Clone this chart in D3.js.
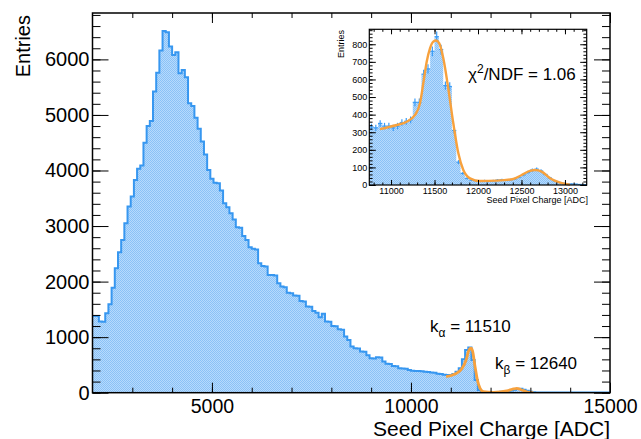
<!DOCTYPE html>
<html>
<head>
<meta charset="utf-8">
<script src="https://cdn.jsdelivr.net/npm/d3@7"></script>
<style>body{margin:0;background:#fff}</style>
</head>
<body>
<script>
// main histogram, 80 ADC bins from 2000
const mainBinStart = 2000;
const mainBinWidth = 80;
const mainCounts = [
    1380, 1380, 1280, 1275, 1430, 1590, 1890, 2240, 2530, 2750,
    3050, 3350, 3530, 3830, 4030, 4090, 4500, 4800, 4890, 5420,
    5760, 6160, 6510, 6490, 6230, 6080, 6130, 5750, 5810, 5680,
    5210, 5160, 4950, 4750, 4520, 4290, 4010, 3850, 3780, 3770,
    3640, 3410, 3340, 3230, 3120, 2980, 2970, 2820, 2750, 2620,
    2590, 2580, 2330, 2280, 2270, 2120, 2120, 2110, 1970, 1910,
    1900, 1800, 1790, 1750, 1745, 1650, 1640, 1550, 1545, 1470,
    1440, 1360, 1420, 1280, 1275, 1200, 1195, 1140, 1135, 1010,
    950, 830, 800, 795, 740, 735, 675, 620, 615, 640,
    635, 560, 520, 515, 480, 478, 440, 437, 430, 409,
    395, 391, 390, 388, 375, 373, 362, 360, 340, 337,
    322, 320, 318, 335, 375, 440, 600, 768, 815, 588,
    228, 48, 12, 8, 7, 8, 10, 12, 15, 20,
    28, 40, 55, 68, 70, 55, 35, 18, 8, 4,
    3, 3, 2, 2, 2, 2, 2, 2, 2, 2,
    2, 2, 2, 2, 2, 2, 2, 2, 2, 2,
    2, 2, 2
];

// inset histogram, 50 ADC bins from 10750
const insetBinStart = 10750;
const insetBinWidth = 50;
const insetCounts = [
    330, 325, 350, 335, 335, 325, 335, 355, 362, 370,
    470, 470, 630, 660, 760, 843, 770, 565, 560, 310,
    130, 66, 38, 28, 25, 22, 25, 22, 25, 28,
    30, 28, 30, 35, 45, 58, 72, 85, 90, 80,
    60, 40, 25, 15, 10, 8, 6, 5, 3, 2
];

// fit curve
const fitMainX = [10883, 11109, 11277, 11385, 11443, 11485, 11510, 11545, 11610, 11669, 11736, 11819, 12070, 12406, 12573, 12657, 12782, 12949, 13074];
const fitMainY = [289, 337, 430, 588, 740, 795, 800, 755, 469, 229, 79, 19, 7, 31, 67, 79, 49, 7, 0];

// fit curve
const fitInsetX = [10873, 11065, 11180, 11276, 11333, 11371, 11410, 11448, 11486, 11517, 11555, 11601, 11658, 11716, 11774, 11831, 11908, 12023, 12215, 12406, 12502, 12598, 12656, 12732, 12828, 12943, 13058];
const fitInsetY = [318, 341, 360, 398, 464, 578, 701, 777, 815, 821, 805, 720, 550, 351, 180, 85, 38, 23, 25, 34, 57, 80, 85, 76, 38, 13, 2];

const mainXTicks = [5000, 10000, 15000];
const mainYTicks = [0, 1000, 2000, 3000, 4000, 5000, 6000];
const insetXTicks = [11000, 11500, 12000, 12500, 13000];
const insetYTicks = [0, 100, 200, 300, 400, 500, 600, 700, 800];

const font = "'Liberation Sans', Arial, Helvetica, sans-serif";
const lineBlue = "#3797f0";
const orange = "#f7a13d";

function binsOf(start, width, counts) {
    let d = counts.map((c, i) => ({e: start + i * width, v: c}));
    d.push({e: start + counts.length * width, v: counts[counts.length - 1]});
    return d;
}

function ticks(g, axis, values, size, labels, pad) {
    g.call(axis.tickValues(values).tickSize(size).tickPadding(pad || 3)
        .tickFormat(labels ? d3.format("d") : ""));
    g.select(".domain").remove();
    g.attr("font-family", font);
    g.selectAll("line").attr("stroke", "#000");
}

function main() {
    let svg = d3.select("body").append("svg")
        .attr("width", 641)
        .attr("height", 439)
        .style("background", "#fff");

    let defs = svg.append("defs");
    let pat = defs.append("pattern").attr("id", "dots")
        .attr("width", 2).attr("height", 2)
        .attr("patternUnits", "userSpaceOnUse");
    pat.append("rect").attr("width", 2).attr("height", 2).attr("fill", "#b6dafd");
    pat.append("rect").attr("width", 1).attr("height", 1).attr("fill", "#8bc2f6");
    pat.append("rect").attr("x", 1).attr("y", 1).attr("width", 1).attr("height", 1).attr("fill", "#8bc2f6");

    // ---- main frame
    let x = d3.scaleLinear().domain([2000, 15000]).range([92.5, 610]);
    let y = d3.scaleLinear().domain([0, 6835]).range([392.7, 13]);

    defs.append("clipPath").attr("id", "mainclip")
        .append("rect").attr("x", 92.5).attr("y", 13).attr("width", 517.5).attr("height", 379.7);

    let bins = binsOf(mainBinStart, mainBinWidth, mainCounts);
    let hg = svg.append("g").attr("clip-path", "url(#mainclip)");
    hg.append("path").datum(bins)
        .attr("d", d3.area().curve(d3.curveStepAfter).x(d => x(d.e)).y0(y(0)).y1(d => y(d.v)))
        .attr("fill", "url(#dots)");
    hg.append("path").datum(bins)
        .attr("d", d3.line().curve(d3.curveStepAfter).x(d => x(d.e)).y(d => y(d.v)))
        .attr("fill", "none").attr("stroke", lineBlue).attr("stroke-width", 2);

    let fitMain = fitMainX.map((v, i) => [v, fitMainY[i]]);
    hg.append("path").datum(fitMain)
        .attr("d", d3.line().curve(d3.curveMonotoneX).x(d => x(d[0])).y(d => y(d[1])))
        .attr("fill", "none").attr("stroke", orange).attr("stroke-width", 2.8);

    svg.append("rect").attr("x", 92.5).attr("y", 13).attr("width", 517.5).attr("height", 379.7)
        .attr("fill", "none").attr("stroke", "#000").attr("stroke-width", 1.5);

    let xMinor = d3.range(3000, 15000, 1000);
    let yMinor = d3.range(0, 6835, 200);

    ticks(svg.append("g").attr("transform", "translate(0,392.7)"), d3.axisBottom(x), xMinor, -5, false);
    ticks(svg.append("g").attr("transform", "translate(0,13)"), d3.axisTop(x), xMinor, -5, false);
    ticks(svg.append("g").attr("transform", "translate(0,13)"), d3.axisTop(x), mainXTicks, -10, false);
    let xAx = svg.append("g").attr("transform", "translate(0,392.7)");
    ticks(xAx, d3.axisBottom(x), mainXTicks, -10, true, 6);
    xAx.attr("font-size", 19.5);

    ticks(svg.append("g").attr("transform", "translate(92.5,0)"), d3.axisLeft(y), yMinor, -8, false);
    ticks(svg.append("g").attr("transform", "translate(610,0)"), d3.axisRight(y), yMinor, -8, false);
    ticks(svg.append("g").attr("transform", "translate(610,0)"), d3.axisRight(y), mainYTicks, -16, false);
    let yAx = svg.append("g").attr("transform", "translate(92.5,0)");
    ticks(yAx, d3.axisLeft(y), mainYTicks, -16, true, 3);
    yAx.attr("font-size", 20);

    svg.append("text")
        .attr("x", 610).attr("y", 436)
        .attr("text-anchor", "end")
        .attr("font-family", font).attr("font-size", 21)
        .text("Seed Pixel Charge [ADC]");

    svg.append("text")
        .attr("transform", "translate(30,15) rotate(-90)")
        .attr("text-anchor", "end")
        .attr("font-family", font).attr("font-size", 20)
        .text("Entries");

    let ka = svg.append("text").attr("x", 430).attr("y", 332)
        .attr("font-family", font).attr("font-size", 17);
    ka.append("tspan").text("k");
    ka.append("tspan").attr("dy", 5).attr("font-size", 12).text("α");
    ka.append("tspan").attr("dy", -5).text(" = 11510");

    let kb = svg.append("text").attr("x", 495).attr("y", 369)
        .attr("font-family", font).attr("font-size", 17);
    kb.append("tspan").text("k");
    kb.append("tspan").attr("dy", 5).attr("font-size", 12).text("β");
    kb.append("tspan").attr("dy", -5).text(" = 12640");

    // ---- inset
    let ix = d3.scaleLinear().domain([10750, 13250]).range([369.3, 586.7]);
    let iy = d3.scaleLinear().domain([0, 885]).range([185, 29.3]);

    svg.append("rect").attr("x", 369.3).attr("y", 29.3).attr("width", 217.4).attr("height", 155.7)
        .attr("fill", "#fff");

    let ibins = binsOf(insetBinStart, insetBinWidth, insetCounts);
    svg.append("path").datum(ibins)
        .attr("d", d3.area().curve(d3.curveStepAfter).x(d => ix(d.e)).y0(iy(0)).y1(d => iy(d.v)))
        .attr("fill", "url(#dots)");

    let cross = svg.append("g").attr("stroke", "#3a9cf7").attr("stroke-width", 1.2);
    insetCounts.forEach((c, i) => {
        let e0 = insetBinStart + i * insetBinWidth;
        let xc = ix(e0 + insetBinWidth / 2);
        cross.append("line").attr("x1", ix(e0)).attr("x2", ix(e0 + insetBinWidth))
            .attr("y1", iy(c)).attr("y2", iy(c));
        cross.append("line").attr("x1", xc).attr("x2", xc)
            .attr("y1", iy(c - Math.sqrt(c))).attr("y2", iy(c + Math.sqrt(c)));
    });

    let fitInset = fitInsetX.map((v, i) => [v, fitInsetY[i]]);
    svg.append("path").datum(fitInset)
        .attr("d", d3.line().curve(d3.curveMonotoneX).x(d => ix(d[0])).y(d => iy(d[1])))
        .attr("fill", "none").attr("stroke", orange).attr("stroke-width", 2.4);

    svg.append("rect").attr("x", 369.3).attr("y", 29.3).attr("width", 217.4).attr("height", 155.7)
        .attr("fill", "none").attr("stroke", "#000").attr("stroke-width", 1.2);

    let ixMinor = d3.range(10800, 13250, 100);
    let iyMinor = d3.range(0, 885, 20);
    ticks(svg.append("g").attr("transform", "translate(0,185)"), d3.axisBottom(ix), ixMinor, -2.5, false);
    ticks(svg.append("g").attr("transform", "translate(0,29.3)"), d3.axisTop(ix), ixMinor, -2.5, false);
    ticks(svg.append("g").attr("transform", "translate(0,29.3)"), d3.axisTop(ix), insetXTicks, -5, false);
    let ixAx = svg.append("g").attr("transform", "translate(0,185)");
    ticks(ixAx, d3.axisBottom(ix), insetXTicks, -5, true, 2.5);
    ixAx.attr("font-size", 9);

    ticks(svg.append("g").attr("transform", "translate(369.3,0)"), d3.axisLeft(iy), iyMinor, -3.3, false);
    ticks(svg.append("g").attr("transform", "translate(586.7,0)"), d3.axisRight(iy), iyMinor, -3.3, false);
    ticks(svg.append("g").attr("transform", "translate(586.7,0)"), d3.axisRight(iy), insetYTicks, -6.5, false);
    let iyAx = svg.append("g").attr("transform", "translate(369.3,0)");
    ticks(iyAx, d3.axisLeft(iy), insetYTicks, -6.5, true, 2);
    iyAx.attr("font-size", 9);

    svg.append("text")
        .attr("x", 588).attr("y", 203)
        .attr("text-anchor", "end")
        .attr("font-family", font).attr("font-size", 9)
        .text("Seed Pixel Charge [ADC]");

    svg.append("text")
        .attr("transform", "translate(344,30) rotate(-90)")
        .attr("text-anchor", "end")
        .attr("font-family", font).attr("font-size", 9)
        .text("Entries");

    let chi = svg.append("text").attr("x", 468).attr("y", 80)
        .attr("font-family", font).attr("font-size", 17);
    chi.append("tspan").text("χ");
    chi.append("tspan").attr("dy", -7).attr("font-size", 12).text("2");
    chi.append("tspan").attr("dy", 7).text("/NDF = 1.06");
}

main()
</script>
</body>
</html>
